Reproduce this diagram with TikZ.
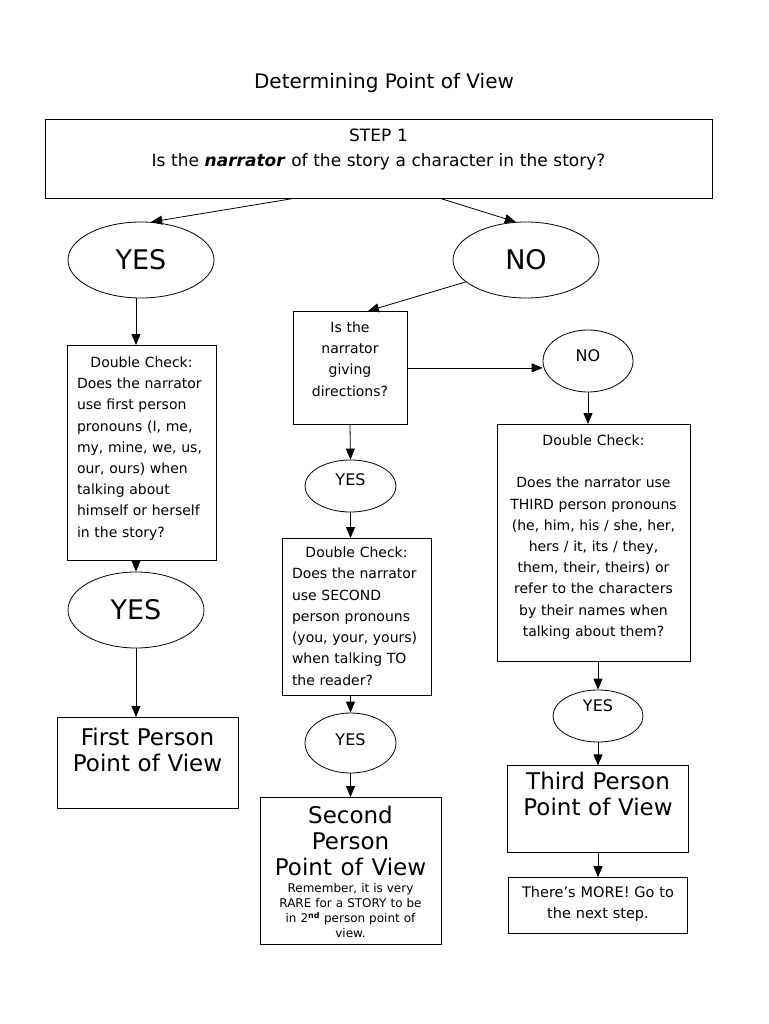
\documentclass[tikz,border=0pt]{standalone}
\usepackage{fontspec}
\setmainfont{DejaVu Sans}
\usetikzlibrary{arrows.meta,shapes.geometric,positioning}
\tikzset{
    block/.style={draw,line width=0.8pt,inner xsep=6pt,inner ysep=0pt,align=center},
    bubble/.style={draw,ellipse,line width=0.8pt,inner sep=0pt},
    arrow/.style={-{Triangle[width=9pt,length=11pt]},line width=0.8pt}
}
\newcommand{\smalltxt}{\fontsize{14}{21.2}\selectfont}
\newcommand{\bigtxt}{\fontsize{23}{26}\selectfont}

\begin{document}
\begin{tikzpicture}[x=1pt,y=-1pt]
  \path[use as bounding box] (0,0) rectangle (768,1024);
  \node[font=\fontsize{20}{24}\selectfont] (T) at (384,83) {Determining Point of View};
  \node[block,anchor=north,text width=655pt,text height=22pt,text depth=57pt,font=\fontsize{17}{25}\selectfont] (S1) at (378.5,119)
    {STEP 1\\Is the \textbf{\textit{narrator}} of the story a character in the story?};

  \node[bubble,minimum width=146pt,minimum height=76pt,font=\fontsize{27}{30}\selectfont] (Y1) at (141,260) {YES};
  \node[bubble,minimum width=146pt,minimum height=76pt,font=\fontsize{27}{30}\selectfont] (N1) at (526,260) {NO};

  \node[block,anchor=north,inner xsep=10pt,text width=129pt,text height=22pt,text depth=193pt,align=left,font=\smalltxt] (D1) at (141.5,345)
    {\makebox[129pt]{Double Check:}\\Does the narrator\\use first person\\pronouns (I, me,\\my, mine, we, us,\\our, ours) when\\talking about\\himself or herself\\in the story?};
  \node[bubble,minimum width=136pt,minimum height=76pt,font=\fontsize{27}{30}\selectfont] (Y1b) at (136,610) {YES};
  \node[block,anchor=north,text width=169pt,text height=28pt,text depth=63pt,font=\bigtxt] (P1) at (147.5,717)
    {First Person\\Point of View};

  \node[block,anchor=north,inner xsep=5pt,text width=104pt,text height=21pt,text depth=92pt,font=\smalltxt] (Q2) at (350,311)
    {Is the\\narrator\\giving\\directions?};
  \node[bubble,minimum width=91pt,minimum height=52pt,text height=12pt,text depth=14pt,font=\fontsize{16}{18}\selectfont] (Y2a) at (350.5,486) {YES};
  \node[block,anchor=north,inner xsep=10pt,text width=129pt,text height=19pt,text depth=138pt,align=left,font=\fontsize{14}{21.3}\selectfont] (D2) at (356.5,538)
    {\makebox[129pt]{Double Check:}\\Does the narrator\\use SECOND\\person pronouns\\(you, your, yours)\\when talking TO\\the reader?};
  \node[bubble,minimum width=91pt,minimum height=60pt,text height=12pt,text depth=8pt,font=\fontsize{16}{18}\selectfont] (Y2b) at (350.5,743) {YES};
  \node[block,anchor=north,text width=169pt,text height=26pt,text depth=121pt,font=\fontsize{12}{15}\selectfont] (P2) at (350.5,797)
    {{\bigtxt\spaceskip=0pt Second\\Person\\Point of View\par}\vskip2pt
     Remember, it is very\\RARE for a STORY to be\\in 2\textsuperscript{\textbf{nd}} person point of\\view.};

  \node[bubble,minimum width=90pt,minimum height=62pt,text height=12pt,text depth=12pt,font=\fontsize{16}{18}\selectfont] (N2) at (588,361) {NO};
  \node[block,anchor=north,text width=181pt,text height=21pt,text depth=216pt,font=\smalltxt] (D3) at (593.5,424)
    {Double Check:\\[21.2pt]Does the narrator use\\THIRD person pronouns\\(he, him, his / she, her,\\hers / it, its / they,\\them, their, theirs) or\\refer to the characters\\by their names when\\talking about them?};
  \node[bubble,minimum width=90pt,minimum height=52pt,text height=12pt,text depth=22pt,font=\fontsize{16}{18}\selectfont] (Y3) at (598,716) {YES};
  \node[block,below=23pt of Y3,text width=169pt,text height=24pt,text depth=63pt,font=\bigtxt] (F3) {Third Person\\Point of View};
  \node[block,below=24pt of F3,text width=167pt,text height=20pt,text depth=36pt,font=\fontsize{14.5}{21}\selectfont] (M3) {There's MORE! Go to\\the next step.};

  \draw[arrow] ([xshift=-87pt]S1.south) -- (Y1.75);
  \draw[arrow] ([xshift=63pt]S1.south) -- (N1.105);
  \draw[arrow] (N1.200) -- ([xshift=18pt]Q2.north);
  \draw[arrow] (Q2.east) -- (Q2.east -| N2.west);
  \draw[arrow] (Y1.south -| Y1b.north) -- (D1.north -| Y1b.north);
  \draw[arrow] (D1.south -| Y1b.north) -- (Y1b.north);
  \draw[arrow] (Y1b.south) -- (P1.north -| Y1b.south);
  \draw[arrow] (Q2.south) -- (Y2a.north);
  \draw[arrow] (Y2a.south) -- (D2.north -| Y2a.south);
  \draw[arrow] (D2.south -| Y2b.north) -- (Y2b.north);
  \draw[arrow] (Y2b.south) -- (P2.north);
  \draw[arrow] (N2.south) -- (N2.south |- D3.north);
  \draw[arrow] (D3.south -| Y3.north) -- (Y3.north);
  \draw[arrow] (Y3.south) -- (F3.north);
  \draw[arrow] (F3.south) -- (M3.north);
\end{tikzpicture}
\end{document}
